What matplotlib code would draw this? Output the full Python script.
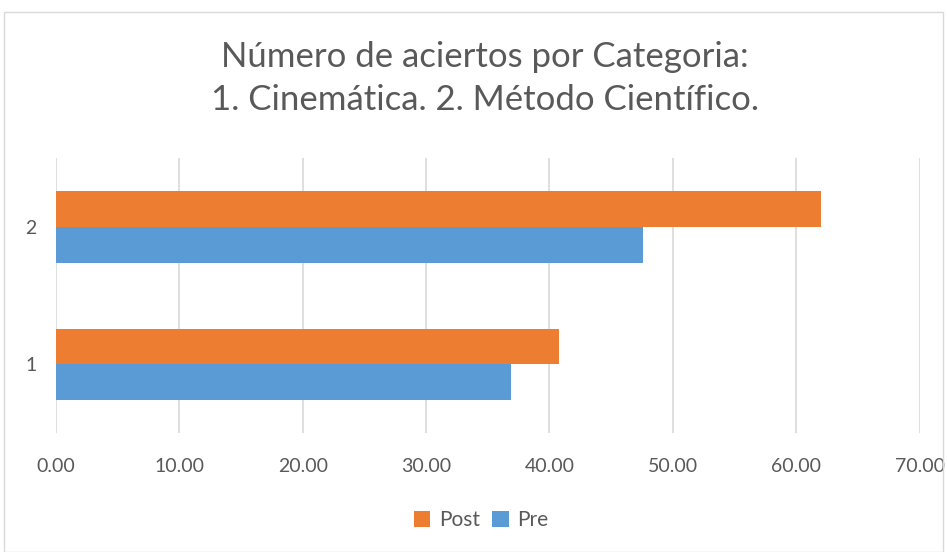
import matplotlib
matplotlib.use("Agg")
import matplotlib.pyplot as plt
import numpy as np
from matplotlib.patches import Rectangle

categories = ["1", "2"]
post = [40.75, 62.0]
pre = [36.9, 47.6]
xticks = [0, 10, 20, 30, 40, 50, 60, 70]

plt.rcParams['font.family'] = ['Lato', 'DejaVu Sans']
text_color = "#595959"

fig = plt.figure(figsize=(9.47, 5.52), dpi=100)
# outer frame
fig.patches.append(Rectangle((4/947, 0), 1 - 8/947, 1 - 12/552, transform=fig.transFigure,
                             fill=False, edgecolor="#d9d9d9", linewidth=1.0))

ax = fig.add_axes([56/947, 1 - 433/552, (919.5 - 56)/947, (433 - 158)/552])
y = np.arange(1, len(categories) + 1)
h = 0.26
ax.barh(y - h/2, pre, height=h, color="#5b9bd5", label="Pre", zorder=3)
ax.barh(y + h/2, post, height=h, color="#ed7d31", label="Post", zorder=3)

ax.set_xlim(0, 70)
ax.set_ylim(0.5, 2.5)
ax.set_xticks(xticks)
ax.set_xticklabels([f"{v:.2f}" for v in xticks], fontsize=14, color=text_color)
ax.set_yticks(y)
ax.set_yticklabels(categories, fontsize=14, color=text_color)
ax.tick_params(axis='both', length=0)
ax.tick_params(axis='x', pad=18)
ax.tick_params(axis='y', pad=14)
ax.grid(axis='x', color="#d9d9d9", linewidth=1.2, zorder=0)
for s in ax.spines.values():
    s.set_visible(False)

fig.text(0.512, 1 - 57/552, "Número de aciertos por Categoria:", ha='center', va='center',
         fontsize=25, color=text_color)
fig.text(0.512, 1 - 100/552, "1. Cinemática. 2. Método Científico.", ha='center', va='center',
         fontsize=25, color=text_color)

handles, labels = ax.get_legend_handles_labels()
leg = fig.legend(handles[::-1], labels[::-1], loc='center', bbox_to_anchor=(0.508, 1 - 520/552),
                 ncol=2, frameon=False, fontsize=15, handlelength=0.8, handleheight=0.8,
                 handletextpad=0.4, columnspacing=0.6)
for t in leg.get_texts():
    t.set_color(text_color)

fig.savefig("out.png", dpi=100)
